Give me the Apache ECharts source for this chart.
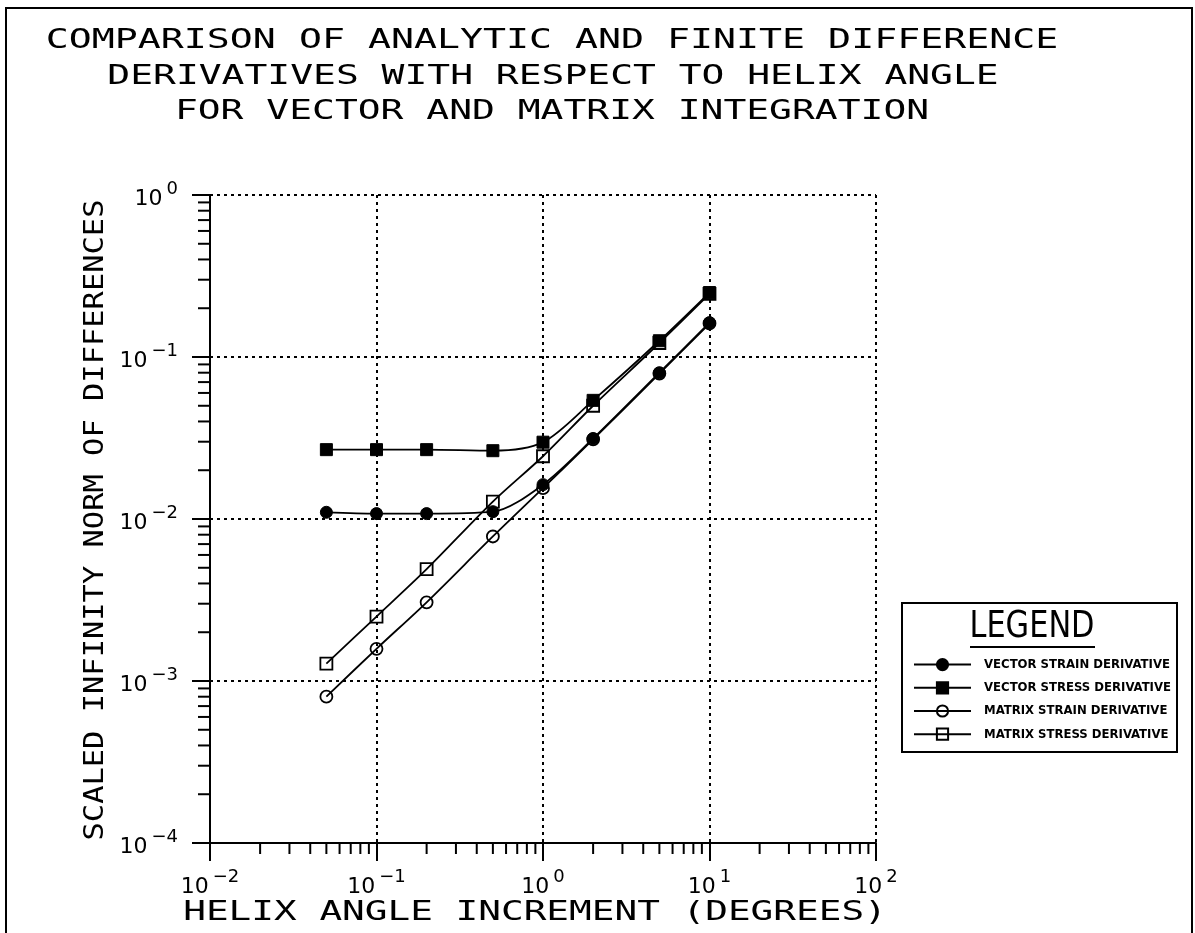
<!DOCTYPE html>
<html><head><meta charset="utf-8">
<script src="https://cdn.jsdelivr.net/npm/echarts@6/dist/echarts.min.js"></script>
<style>html,body{margin:0;padding:0;background:#fff}#chart{width:1195px;height:933px}</style>
</head><body><div id="chart"></div>
<script>
// ---- data ----
const titleLines = [
  'COMPARISON OF ANALYTIC AND FINITE DIFFERENCE',
  'DERIVATIVES WITH RESPECT TO HELIX ANGLE',
  'FOR VECTOR AND MATRIX INTEGRATION'
];
const xAxisTitle = 'HELIX ANGLE INCREMENT (DEGREES)';
const yAxisTitle = 'SCALED INFINITY NORM OF DIFFERENCES';
const legendTitle = 'LEGEND';
const seriesNames = ['VECTOR STRAIN DERIVATIVE', 'VECTOR STRESS DERIVATIVE', 'MATRIX STRAIN DERIVATIVE', 'MATRIX STRESS DERIVATIVE'];
const helixIncrement = [0.05, 0.1, 0.2, 0.5, 1, 2, 5, 10];
const vectorStrain = [0.0110, 0.0108, 0.0108, 0.0111, 0.0163, 0.0314, 0.080, 0.163];
const vectorStress = [0.0268, 0.0268, 0.0268, 0.0264, 0.0298, 0.054, 0.126, 0.25];
const matrixStrain = [0.00080, 0.00158, 0.00306, 0.0078, 0.0155, 0.031, 0.079, 0.161];
const matrixStress = [0.00128, 0.0025, 0.0049, 0.0128, 0.0244, 0.050, 0.122, 0.245];
const xMinorTicks = [0.02,0.03,0.04,0.05,0.06,0.07,0.08,0.09, 0.2,0.3,0.4,0.5,0.6,0.7,0.8,0.9, 2,3,4,5,6,7,8,9, 20,30,40,50,60,70,80,90];
const yMinorTicks = [0.0002,0.0003,0.0004,0.0005,0.0006,0.0007,0.0008,0.0009, 0.002,0.003,0.004,0.005,0.006,0.007,0.008,0.009, 0.02,0.03,0.04,0.05,0.06,0.07,0.08,0.09, 0.2,0.3,0.4,0.5,0.6,0.7,0.8,0.9];

// ---- chart ----
const chart = echarts.init(document.getElementById('chart'), null, {renderer: 'canvas'});
const MONO = "'DejaVu Sans Mono', monospace";
const SANS = "'DejaVu Sans', sans-serif";
function supLabel(v) {
  const e = Math.round(Math.log10(v));
  return '{b|10}{s|' + String(e).replace('-', '\u2212') + '}';
}
const rich = {
  b: {fontFamily: SANS, fontSize: 22, color: '#000', lineHeight: 30, verticalAlign: 'bottom'},
  s: {fontFamily: SANS, fontSize: 18, color: '#000', lineHeight: 30, verticalAlign: 'top', padding: [0, 0, 0, 4]}
};
const gridLine = {show: true, lineStyle: {color: '#000', type: [3, 4], width: 2}};

function lineSeries(name, values, symbol, open) {
  return {
    name: name, type: 'line',
    data: helixIncrement.map((x, i) => [x, values[i]]),
    smooth: 0.3,
    symbol: symbol, symbolSize: 12,
    lineStyle: {color: '#000', width: 1.8},
    itemStyle: open ? {color: 'rgba(0,0,0,0)', borderColor: '#000', borderWidth: 1.8}
                    : {color: '#000', borderColor: '#000', borderWidth: 1},
    emphasis: {disabled: true},
    z: open ? 3 : 4
  };
}
function minorTickSeries(values, isX) {
  return {
    type: 'custom', silent: true, clip: false,
    xAxisIndex: 0, yAxisIndex: 0,
    data: values.map(v => isX ? [v, 1e-4] : [0.01, v]),
    renderItem: function (params, api) {
      const p = api.coord([api.value(0), api.value(1)]);
      const shape = isX ? {x1: p[0], y1: p[1], x2: p[0], y2: p[1] + 11}
                        : {x1: p[0] - 12, y1: p[1], x2: p[0], y2: p[1]};
      return {type: 'line', shape: shape, style: {stroke: '#000', lineWidth: 2}};
    },
    z: 5
  };
}

const option = {
  backgroundColor: '#fff',
  animation: false,
  grid: {left: 210, top: 195, width: 666, height: 648, outerBoundsMode: 'none'},
  xAxis: {
    type: 'log', logBase: 10, min: 0.01, max: 100, interval: 1,
    axisLine: {show: true, onZero: false, lineStyle: {color: '#000', width: 2}},
    axisTick: {show: true, inside: false, length: 18, lineStyle: {color: '#000', width: 2}},
    axisLabel: {formatter: supLabel, margin: 25, fontSize: 22, fontFamily: SANS, color: '#000', rich: rich},
    splitLine: gridLine
  },
  yAxis: {
    type: 'log', logBase: 10, min: 0.0001, max: 1, interval: 1,
    axisLine: {show: true, onZero: false, lineStyle: {color: '#000', width: 2}},
    axisTick: {show: true, inside: false, length: 18, lineStyle: {color: '#000', width: 2}},
    axisLabel: {formatter: supLabel, margin: 32, fontSize: 22, fontFamily: SANS, color: '#000', rich: rich},
    splitLine: gridLine
  },
  legend: {
    data: seriesNames,
    orient: 'vertical', left: 913, top: 658, padding: 0,
    itemWidth: 57, itemHeight: 14, itemGap: 10,
    selectedMode: false,
    textStyle: {fontFamily: "'Liberation Sans Narrow', 'DejaVu Sans Condensed', sans-serif", fontSize: 13, fontWeight: 'bold', color: '#000', padding: [0, 0, 0, 8]}
  },
  series: [
    lineSeries(seriesNames[2], matrixStrain, 'circle', true),
    lineSeries(seriesNames[3], matrixStress, 'rect', true),
    lineSeries(seriesNames[0], vectorStrain, 'circle', false),
    lineSeries(seriesNames[1], vectorStress, 'rect', false),
    minorTickSeries(xMinorTicks, true),
    minorTickSeries(yMinorTicks, false)
  ],
  graphic: [
    {type: 'rect', shape: {x: 6, y: 8, width: 1186, height: 940}, style: {fill: 'none', stroke: '#000', lineWidth: 2}, silent: true},
    {type: 'text', x: 552, y: 41, scaleX: 1.47, style: {text: titleLines[0], x: 0, y: 0, align: 'center', verticalAlign: 'middle', fontFamily: MONO, fontSize: 26, fill: '#000'}},
    {type: 'text', x: 553, y: 77, scaleX: 1.46, style: {text: titleLines[1], x: 0, y: 0, align: 'center', verticalAlign: 'middle', fontFamily: MONO, fontSize: 26, fill: '#000'}},
    {type: 'text', x: 552, y: 112, scaleX: 1.46, style: {text: titleLines[2], x: 0, y: 0, align: 'center', verticalAlign: 'middle', fontFamily: MONO, fontSize: 26, fill: '#000'}},
    {type: 'text', x: 535, y: 913, scaleX: 1.45, style: {text: xAxisTitle, x: 0, y: 0, align: 'center', verticalAlign: 'middle', fontFamily: MONO, fontSize: 26, fill: '#000'}},
    {type: 'text', x: 96, y: 520, rotation: Math.PI / 2, scaleX: 1.17, style: {text: yAxisTitle, x: 0, y: 0, align: 'center', verticalAlign: 'middle', fontFamily: MONO, fontSize: 26, fill: '#000'}},
    {type: 'rect', shape: {x: 902, y: 603, width: 275, height: 149}, style: {fill: 'none', stroke: '#000', lineWidth: 2}, silent: true},
    {type: 'text', x: 1032, y: 627, scaleX: 0.8, style: {text: legendTitle, x: 0, y: 0, align: 'center', verticalAlign: 'middle', fontFamily: SANS, fontSize: 38, fill: '#000'}},
    {type: 'line', shape: {x1: 970, y1: 647, x2: 1095, y2: 647}, style: {stroke: '#000', lineWidth: 2}, silent: true}
  ]
};
chart.setOption(option);
</script>
</body></html>
